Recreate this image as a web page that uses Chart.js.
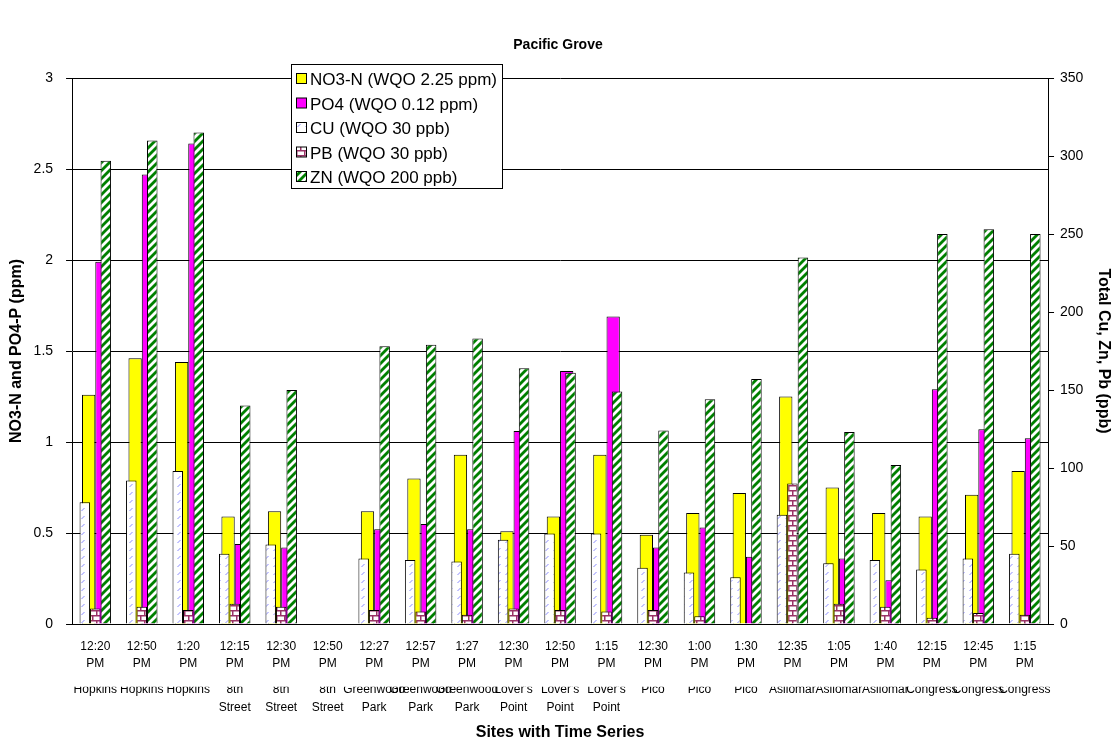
<!DOCTYPE html>
<html lang="en">
<head>
<meta charset="utf-8">
<title>Pacific Grove</title>
<script src="https://cdn.jsdelivr.net/npm/chart.js"></script>
<style>
  body { margin: 0; background: #fff; }
  .chart-container { position: relative; width: 1116px; height: 742px; }
</style>
</head>
<body>

<div class="chart-container">
    <canvas id="myChart"></canvas>
</div>

<script>
// sampling times and sites (x axis)
const times = ['12:20', '12:50', '1:20', '12:15', '12:30', '12:50', '12:27', '12:57', '1:27', '12:30', '12:50',
               '1:15', '12:30', '1:00', '1:30', '12:35', '1:05', '1:40', '12:15', '12:45', '1:15'];
const sites = ['Hopkins', 'Hopkins', 'Hopkins', '8th Street', '8th Street', '8th Street',
               'Greenwood Park', 'Greenwood Park', 'Greenwood Park', "Lover's Point", "Lover's Point", "Lover's Point",
               'Pico', 'Pico', 'Pico', 'Asilomar', 'Asilomar', 'Asilomar', 'Congress', 'Congress', 'Congress'];

// left axis values (ppm)
const no3 = [1.26, 1.46, 1.44, 0.59, 0.62, null, 0.62, 0.80, 0.93, 0.51, 0.59, 0.93, 0.49, 0.61, 0.72, 1.25, 0.75, 0.61, 0.59, 0.71, 0.84];
const po4 = [1.99, 2.47, 2.64, 0.44, 0.42, null, 0.52, 0.55, 0.52, 1.06, 1.39, 1.69, 0.42, 0.53, 0.37, null, 0.36, 0.24, 1.29, 1.07, 1.02];

// right axis values (ppb)
const cu = [78, 92, 98, 45, 51, null, 42, 41, 40, 54, 58, 58, 36, 33, 30, 70, 39, 41, 35, 42, 45];
const pb = [10, 11, 9, 13, 11, null, 9, 8, 6, 10, 9, 8, 9, 5, null, 90, 13, 11, 4, 7, 6];
const zn = [297, 310, 315, 140, 150, null, 178, 179, 183, 164, 161, 149, 124, 144, 157, 235, 123, 102, 250, 253, 250];

const leftTicks = [0, 0.5, 1, 1.5, 2, 2.5, 3];
const rightTicks = [0, 50, 100, 150, 200, 250, 300, 350];

Chart.defaults.font.family = "'Liberation Sans', Arial, sans-serif";
Chart.defaults.color = '#000';

const ctx = document.getElementById('myChart');

// fill patterns like the excel ones
function makePattern(w, h, draw) {
    const c = document.createElement('canvas');
    c.width = w; c.height = h;
    const g = c.getContext('2d');
    g.fillStyle = '#fff';
    g.fillRect(0, 0, w, h);
    draw(g);
    return ctx.getContext('2d').createPattern(c, 'repeat');
}

const cuFill = makePattern(8, 8, g => {
    g.strokeStyle = '#8c8cff';
    g.lineWidth = 1;
    g.beginPath(); g.moveTo(1.5, 7); g.lineTo(4.5, 4); g.stroke();
});

const pbFill = makePattern(8, 10, g => {
    g.fillStyle = '#993366';
    g.fillRect(0, 0, 8, 1.5);
    g.fillRect(0, 5, 8, 1.5);
    g.fillRect(0, 0, 1.5, 5);
    g.fillRect(4, 5, 1.5, 5);
});

const znFill = makePattern(8, 8, g => {
    g.strokeStyle = '#008000';
    g.lineWidth = 2.8;
    for (let k = 0; k <= 2; k++) {
        g.beginPath(); g.moveTo(-2, 8 * k + 2); g.lineTo(10, 8 * k - 10); g.stroke();
    }
});

// legend drawn as a boxed panel inside the plot
const boxLegend = {
    id: 'boxLegend',
    afterDraw(chart) {
        const c = chart.ctx;
        c.save();
        c.fillStyle = '#fff';
        c.fillRect(291.5, 64.5, 211, 124);
        c.strokeStyle = '#000';
        c.lineWidth = 1;
        c.strokeRect(291.5, 64.5, 211, 124);
        c.font = "17px 'Liberation Sans', Arial, sans-serif";
        c.textBaseline = 'middle';
        chart.data.datasets.forEach((ds, i) => {
            const y = 79 + i * 24.5;
            c.fillStyle = ds.backgroundColor;
            c.fillRect(296.5, y - 5.5, 10, 10);
            c.strokeRect(296.5, y - 5.5, 10, 10);
            c.fillStyle = '#000';
            c.fillText(ds.label, 310, y + 1.5);
        });
        c.restore();
    }
};

// bars sit on two hidden linear index axes. this chart.js build gives every
// index axis its own slot range (slots = bars * axes, second axis starts one
// slot in), so groups are widened and the hidden axes nudged to keep each
// group centred on its category
const n = times.length;
const primShift = 0.286, secShift = 0.113;
const hiddenAxis = shift => ({
    type: 'linear', display: false, offset: false, bounds: 'data',
    min: -0.5 - shift, max: n - 0.5 - shift,
    afterBuildTicks: axis => { axis.ticks = times.map((t, i) => ({ value: i })); }
});
const pts = arr => arr.map((v, i) => ({ x: i, y: v }));

new Chart(ctx, {
    type: 'bar',
    data: {
        labels: times.map(t => [t, 'PM']),
        datasets: [
            { label: 'NO3-N (WQO 2.25 ppm)', data: pts(no3), backgroundColor: '#ffff00', xAxisID: 'xa', yAxisID: 'y',
              order: 4, categoryPercentage: 1.1446, barPercentage: 1 },
            { label: 'PO4 (WQO 0.12 ppm)', data: pts(po4), backgroundColor: '#ff00ff', xAxisID: 'xa', yAxisID: 'y',
              order: 5, categoryPercentage: 1.1446, barPercentage: 1 },
            { label: 'CU (WQO 30 ppb)', data: pts(cu), backgroundColor: cuFill, xAxisID: 'xb', yAxisID: 'y1',
              order: 1, categoryPercentage: 1.355, barPercentage: 1 },
            { label: 'PB (WQO 30 ppb)', data: pts(pb), backgroundColor: pbFill, xAxisID: 'xb', yAxisID: 'y1',
              order: 2, categoryPercentage: 1.355, barPercentage: 1 },
            { label: 'ZN (WQO 200 ppb)', data: pts(zn), backgroundColor: znFill, xAxisID: 'xb', yAxisID: 'y1',
              order: 3, categoryPercentage: 1.355, barPercentage: 1 }
        ]
    },
    options: {
        responsive: true,
        maintainAspectRatio: false,
        animation: false,
        datasets: { bar: { borderColor: '#000', borderWidth: 1, inflateAmount: 0 } },
        layout: { padding: 0 },
        plugins: {
            legend: { display: false },
            tooltip: { enabled: false },
            title: {
                display: true,
                text: 'Pacific Grove',
                color: '#000',
                font: { size: 14, weight: 'bold', lineHeight: 1.2 },
                padding: { top: 36.6, bottom: 24.6 }
            }
        },
        scales: {
            x: {
                type: 'category',
                position: 'bottom',
                weight: 0,
                offset: true,
                grid: { display: false, drawTicks: false },
                border: { display: true, color: '#000', width: 1 },
                ticks: { autoSkip: false, maxRotation: 0, minRotation: 0, padding: 14.6,
                         font: { size: 12, lineHeight: 1.4 } }
            },
            x2: {
                type: 'category',
                position: 'bottom',
                weight: 1,
                offset: true,
                labels: sites.map(s => s.split(' ')),
                grid: { display: false, drawTicks: false },
                border: { display: false },
                ticks: { autoSkip: false, maxRotation: 0, minRotation: 0, padding: -5.8,
                         font: { size: 12, lineHeight: 1.5 } },
                title: { display: true, text: 'Sites with Time Series', color: '#000',
                         font: { size: 16, weight: 'bold', lineHeight: 1.2 }, padding: { top: 12.2, bottom: -0.6 } }
            },
            xa: hiddenAxis(primShift),
            xb: hiddenAxis(secShift),
            y: {
                position: 'left',
                min: 0,
                max: 3,
                stacked: false,
                afterBuildTicks: axis => { axis.ticks = leftTicks.map(v => ({ value: v })); },
                grid: { color: '#000', lineWidth: 1, drawTicks: true, tickLength: 6, tickColor: '#000' },
                border: { display: true, color: '#000', width: 1 },
                ticks: { padding: 13, font: { size: 14, lineHeight: 1.2 }, callback: v => String(v) },
                title: { display: true, text: 'NO3-N and PO4-P (ppm)', color: '#000',
                         font: { size: 16, weight: 'bold', lineHeight: 1.2 }, padding: { top: 7.4, bottom: -6 } }
            },
            y1: {
                position: 'right',
                min: 0,
                max: 350,
                stacked: false,
                afterBuildTicks: axis => { axis.ticks = rightTicks.map(v => ({ value: v })); },
                grid: { drawOnChartArea: false, drawTicks: true, tickLength: 6, tickColor: '#000' },
                border: { display: true, color: '#000', width: 1 },
                ticks: { padding: 6, font: { size: 14, lineHeight: 1.2 }, callback: v => String(v) },
                title: { display: true, text: 'Total Cu, Zn, Pb (ppb)', color: '#000',
                         font: { size: 16, weight: 'bold', lineHeight: 1.2 }, padding: { top: 3.4, bottom: 4 } }
            }
        }
    },
    plugins: [boxLegend]
});
</script>

</body>
</html>
